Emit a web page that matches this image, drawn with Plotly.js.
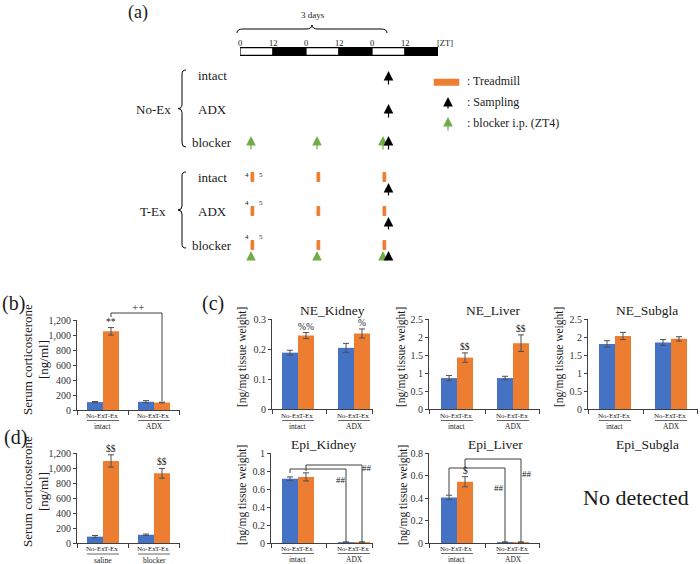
<!DOCTYPE html>
<html><head><meta charset="utf-8">
<script src="https://cdn.plot.ly/plotly-3.0.1.min.js"></script>
<style>html,body{margin:0;padding:0;background:#fff}#chart{width:700px;height:564px}</style>
</head><body><div id="chart"></div>
<script>
// ================= DATA =================
// (a) protocol schematic
const ldStart = [0, 12, 24, 36, 48, 60];
const ldDur = [12, 12, 12, 12, 12, 12];
const ldPhase = ['light', 'dark', 'light', 'dark', 'light', 'dark'];
const ztTickHours = [0, 12, 24, 36, 48, 60];
const ztTickText = ['0', '12', '0', '12', '0', '12'];
const treadmillStart = [4, 28, 52];
const treadmillEnd = [5, 29, 53];
const blockerZT = [4, 28, 52];
const samplingZT = 54;
const rowsNoEx = ['intact', 'ADX', 'blocker'];
const rowsTEx = ['intact', 'ADX', 'blocker'];
const rowHasBlocker = [false, false, true];

// bar panels
const groupPos = [0, 1];
const subLabels = ['No-Ex', 'T-Ex'];
const groupsB = ['intact', 'ADX'];
const groupsD = ['saline', 'blocker'];
const groupsC = ['intact', 'ADX'];

const corticoB_NoEx = [105, 110], corticoB_NoExErr = [8, 15];
const corticoB_TEx = [1050, 100], corticoB_TExErr = [50, 5];
const sigB = ['**', ''];

const corticoD_NoEx = [85, 110], corticoD_NoExErr = [15, 10];
const corticoD_TEx = [1095, 930], corticoD_TExErr = [82, 65];
const sigD = ['$$', '$$'];

const neKidney_NoEx = [0.188, 0.204], neKidney_NoExErr = [0.008, 0.015];
const neKidney_TEx = [0.245, 0.252], neKidney_TExErr = [0.010, 0.015];
const sigNEK = ['%%', '%'];

const neLiver_NoEx = [0.86, 0.86], neLiver_NoExErr = [0.07, 0.05];
const neLiver_TEx = [1.43, 1.83], neLiver_TExErr = [0.13, 0.23];
const sigNEL = ['$$', '$$'];

const neSubgla_NoEx = [1.81, 1.85], neSubgla_NoExErr = [0.09, 0.08];
const neSubgla_TEx = [2.03, 1.95], neSubgla_TExErr = [0.10, 0.06];
const sigNES = ['', ''];

const epiKidney_NoEx = [0.715, 0.01], epiKidney_NoExErr = [0.02, 0];
const epiKidney_TEx = [0.735, 0.01], epiKidney_TExErr = [0.045, 0];
const sigEK = ['', ''];

const epiLiver_NoEx = [0.405, 0.008], epiLiver_NoExErr = [0.02, 0];
const epiLiver_TEx = [0.545, 0.008], epiLiver_TExErr = [0.045, 0];
const sigEL = ['$', ''];

// ================= STYLE / LAYOUT =================
const W = 700, H = 564;
const FONT = 'Liberation Serif, DejaVu Serif, serif';
const BLUE = '#4472C4', ORANGE = '#ED7D31', GREEN = '#70AD47';
const AX = '#404040', ERR = '#505050', TXT = '#1a1a1a';
const px = x => x / W, py = y => 1 - y / H;

const traces = [];
const shapes = [];
const annotations = [];
const layout = {
  width: W, height: H, margin: {l: 0, r: 0, t: 0, b: 0},
  paper_bgcolor: '#fff', plot_bgcolor: 'rgba(0,0,0,0)',
  showlegend: false, barmode: 'overlay',
  font: {family: FONT, color: TXT, size: 12}
};

function txt(text, x, y, size, opts) {
  annotations.push(Object.assign({
    text: text, x: px(x), y: py(y), xref: 'paper', yref: 'paper',
    showarrow: false, xanchor: 'center', yanchor: 'middle',
    font: {family: FONT, size: size, color: TXT}
  }, opts || {}));
}

// ---------- (a) schematic ----------
const ZT0 = 240, PXH = 2.75;
layout.xaxis = {domain: [px(ZT0), px(ZT0 + 72 * PXH)], range: [0, 72], visible: false, anchor: 'y', fixedrange: true};
layout.yaxis = {domain: [py(56.5), py(46.5)], range: [-0.5, 0.5], visible: false, anchor: 'x', fixedrange: true};
traces.push({
  type: 'bar', orientation: 'h', xaxis: 'x', yaxis: 'y',
  y: ldStart.map(() => 0), x: ldDur, base: ldStart, width: 0.78,
  marker: {color: ldPhase.map(p => p === 'light' ? '#ffffff' : '#000000'), line: {color: '#000', width: 1.2}},
  hoverinfo: 'skip'
});
ztTickHours.forEach((h, i) => {
  annotations.push({text: ztTickText[i], x: h, xref: 'x', y: py(42.5), yref: 'paper', showarrow: false,
    xanchor: 'center', yanchor: 'middle', font: {family: FONT, size: 8.5, color: TXT}});
});
txt('[ZT]', 445, 42.5, 8.5);
txt('3 days', 313, 15, 9);
txt('(a)', 138, 12, 18);

function P(x, y) { return px(x).toFixed(5) + ',' + py(y).toFixed(5); }
// top brace
shapes.push({type: 'path', xref: 'paper', yref: 'paper', line: {color: '#000', width: 1},
  path: 'M' + P(237, 33) + ' Q' + P(237, 29) + ' ' + P(243, 29) + ' L' + P(306, 29) + ' Q' + P(312, 29) + ' ' + P(312, 25) +
        ' Q' + P(312, 29) + ' ' + P(318, 29) + ' L' + P(381, 29) + ' Q' + P(387, 29) + ' ' + P(387, 33)});
function leftBrace(top, bot) {
  const mid = (top + bot) / 2;
  return 'M' + P(186, top) + ' Q' + P(182, top) + ' ' + P(182, top + 4) + ' L' + P(182, mid - 4) +
    ' Q' + P(182, mid) + ' ' + P(178, mid) + ' Q' + P(182, mid) + ' ' + P(182, mid + 4) +
    ' L' + P(182, bot - 4) + ' Q' + P(182, bot) + ' ' + P(186, bot);
}
shapes.push({type: 'path', xref: 'paper', yref: 'paper', line: {color: '#000', width: 1}, path: leftBrace(70, 147)});
shapes.push({type: 'path', xref: 'paper', yref: 'paper', line: {color: '#000', width: 1}, path: leftBrace(172, 248)});

function arrowAnn(xref, x, tipY, len, color) {
  annotations.push({text: '', xref: xref, x: x, yref: 'paper', y: py(tipY), ax: 0, ay: len,
    axref: 'pixel', ayref: 'pixel', showarrow: true, arrowhead: 2, arrowsize: 1.6, arrowwidth: 1.2,
    arrowcolor: color, standoff: 0, startstandoff: 0});
}

const groupsA = [
  {name: 'No-Ex', rows: rowsNoEx, rowY: [76, 109, 142], treadmill: false, tipOff: [-5, -5, -6], len: [15, 15, 15], labelY: 109},
  {name: 'T-Ex', rows: rowsTEx, rowY: [177, 211, 245], treadmill: true, tipOff: [6, 6, 6], len: [14, 14, 10], labelY: 211}
];
groupsA.forEach(g => {
  txt(g.name, 153, g.labelY, 13);
  g.rows.forEach((r, i) => {
    const y = g.rowY[i];
    txt(r, 212, y, 13);
    if (g.treadmill) {
      treadmillStart.forEach((t, k) => {
        shapes.push({type: 'rect', xref: 'x', yref: 'paper', x0: t, x1: treadmillEnd[k],
          y0: py(y - 4.5), y1: py(y + 4.5), fillcolor: ORANGE, line: {color: ORANGE, width: 1}});
      });
      annotations.push({text: String(treadmillStart[0]), x: treadmillStart[0], xref: 'x', xanchor: 'right', xshift: 0,
        y: py(y - 8), yref: 'paper', showarrow: false, font: {family: FONT, size: 7, color: TXT}});
      annotations.push({text: String(treadmillEnd[0]), x: treadmillEnd[0], xref: 'x', xanchor: 'left', xshift: 3,
        y: py(y - 8), yref: 'paper', showarrow: false, font: {family: FONT, size: 7, color: TXT}});
    }
    if (rowHasBlocker[i]) {
      blockerZT.forEach(t => arrowAnn('x', t, y + g.tipOff[i], g.len[i], GREEN));
    }
    arrowAnn('x', samplingZT, y + g.tipOff[i], g.len[i], '#000');
  });
});

// legend of schematic
shapes.push({type: 'rect', xref: 'paper', yref: 'paper', x0: px(434), x1: px(459), y0: py(79), y1: py(85.5),
  fillcolor: ORANGE, line: {color: ORANGE, width: 0.5}});
arrowAnn('paper', px(448), 97, 13, '#000');
arrowAnn('paper', px(448), 117, 15, GREEN);
txt(': Treadmill', 465, 81, 12, {xanchor: 'left'});
txt(': Sampling', 465, 102, 12, {xanchor: 'left'});
txt(': blocker i.p. (ZT4)', 465, 123, 12, {xanchor: 'left'});

// ---------- bar panels ----------
const panels = [
  {xa: 'x2', ya: 'y2', L: 77, R: 180, top: 320, bottom: 410, c0: 103, c1: 154, ymax: 1200, dtick: 200, fmt: ',',
   groups: groupsB, noEx: corticoB_NoEx, noExErr: corticoB_NoExErr, tEx: corticoB_TEx, tExErr: corticoB_TExErr, sig: sigB,
   ylab: ['Serum corticosterone', '[ng/ml]'], ylabX: [27, 43], ylabY: 360, labOff: [5.5, 10.5, 16.5]},
  {xa: 'x3', ya: 'y3', L: 77, R: 180, top: 453, bottom: 543, c0: 103, c1: 154, ymax: 1200, dtick: 200, fmt: ',',
   groups: groupsD, noEx: corticoD_NoEx, noExErr: corticoD_NoExErr, tEx: corticoD_TEx, tExErr: corticoD_TExErr, sig: sigD,
   ylab: ['Serum corticosterone', '[ng/ml]'], ylabX: [27, 43], ylabY: 492, labOff: [5.5, 11, 17]},
  {xa: 'x4', ya: 'y4', L: 272, R: 373, top: 319, bottom: 409, c0: 298, c1: 354, ymax: 0.3, dtick: 0.1, fmt: '',
   groups: groupsC, noEx: neKidney_NoEx, noExErr: neKidney_NoExErr, tEx: neKidney_TEx, tExErr: neKidney_TExErr, sig: sigNEK,
   title: 'NE_Kidney', titleX: 332, titleY: 310, ylab: ['[ng/mg tissue weight]'], ylabX: [242], ylabY: 357, labOff: [6.5, 11.5, 17]},
  {xa: 'x5', ya: 'y5', L: 429, R: 540, top: 319, bottom: 409, c0: 457, c1: 513, ymax: 2.5, dtick: 0.5, fmt: '',
   groups: groupsC, noEx: neLiver_NoEx, noExErr: neLiver_NoExErr, tEx: neLiver_TEx, tExErr: neLiver_TExErr, sig: sigNEL,
   title: 'NE_Liver', titleX: 493, titleY: 310, ylab: ['[ng/mg tissue weight]'], ylabX: [401], ylabY: 357, labOff: [6.5, 11.5, 17]},
  {xa: 'x6', ya: 'y6', L: 588, R: 698, top: 319, bottom: 409, c0: 615, c1: 671, ymax: 2.5, dtick: 0.5, fmt: '',
   groups: groupsC, noEx: neSubgla_NoEx, noExErr: neSubgla_NoExErr, tEx: neSubgla_TEx, tExErr: neSubgla_TExErr, sig: sigNES,
   title: 'NE_Subgla', titleX: 647, titleY: 310, ylab: ['[ng/mg tissue weight]'], ylabX: [559], ylabY: 357, labOff: [6.5, 11.5, 17]},
  {xa: 'x7', ya: 'y7', L: 271, R: 373, top: 453, bottom: 543, c0: 298, c1: 354, ymax: 1, dtick: 0.2, fmt: '',
   groups: groupsC, noEx: epiKidney_NoEx, noExErr: epiKidney_NoExErr, tEx: epiKidney_TEx, tExErr: epiKidney_TExErr, sig: sigEK,
   title: 'Epi_Kidney', titleX: 323, titleY: 444, ylab: ['[ng/mg tissue weight]'], ylabX: [242], ylabY: 495, labOff: [5.5, 10.5, 16]},
  {xa: 'x8', ya: 'y8', L: 429, R: 540, top: 453, bottom: 543, c0: 457, c1: 513, ymax: 0.8, dtick: 0.2, fmt: '',
   groups: groupsC, noEx: epiLiver_NoEx, noExErr: epiLiver_NoExErr, tEx: epiLiver_TEx, tExErr: epiLiver_TExErr, sig: sigEL,
   title: 'Epi_Liver', titleX: 495, titleY: 444, ylab: ['[ng/mg tissue weight]'], ylabX: [403], ylabY: 495, labOff: [5.5, 10.5, 16]}
];

panels.forEach(p => {
  const s = p.c1 - p.c0;
  const w = 16 / s;
  p.w = w;
  const xr = [(p.L - p.c0) / s, (p.R - p.c0) / s];
  const xk = 'xaxis' + p.xa.slice(1), yk = 'yaxis' + p.ya.slice(1);
  layout[xk] = {domain: [px(p.L), px(p.R)], range: xr, anchor: p.ya, showline: true, linecolor: AX, linewidth: 1,
    ticks: 'outside', ticklen: 4, tickcolor: AX, tickwidth: 1, tickvals: [xr[0] + 0.001, 0.5, xr[1] - 0.001],
    showticklabels: false, showgrid: false, zeroline: false, fixedrange: true};
  layout[yk] = {domain: [py(p.bottom), py(p.top)], range: [0, p.ymax * 1.001], anchor: p.xa, showline: true,
    linecolor: AX, linewidth: 1, ticks: 'outside', ticklen: 3, tickcolor: AX, dtick: p.dtick, tick0: 0,
    tickformat: p.fmt, tickfont: {family: FONT, size: 10, color: '#333'}, showgrid: false, zeroline: false, fixedrange: true};
  traces.push({type: 'bar', xaxis: p.xa, yaxis: p.ya, x: groupPos, y: p.noEx, width: w, offset: -w,
    marker: {color: BLUE, line: {width: 0}}, hoverinfo: 'skip',
    error_y: {type: 'data', array: p.noExErr, visible: true, color: ERR, thickness: 1, width: 3}});
  traces.push({type: 'bar', xaxis: p.xa, yaxis: p.ya, x: groupPos, y: p.tEx, width: w, offset: 0,
    marker: {color: ORANGE, line: {width: 0}}, hoverinfo: 'skip',
    error_y: {type: 'data', array: p.tExErr, visible: true, color: ERR, thickness: 1, width: 3}});
  // significance marks
  p.sig.forEach((sg, i) => {
    if (!sg) return;
    annotations.push({text: sg, xref: p.xa, yref: p.ya, x: groupPos[i] + w / 2, y: p.tEx[i] + p.tExErr[i],
      yanchor: 'bottom', xanchor: 'center', showarrow: false, yshift: -1, font: {family: FONT, size: 9.5, color: TXT}});
  });
  // sub labels, underline and group label
  groupPos.forEach((g, i) => {
    annotations.push({text: subLabels[0], xref: p.xa, x: g - w / 2, yref: 'paper', y: py(p.bottom + p.labOff[0]),
      showarrow: false, xanchor: 'center', yanchor: 'middle', font: {family: FONT, size: 7, color: TXT}});
    annotations.push({text: subLabels[1], xref: p.xa, x: g + w / 2, yref: 'paper', y: py(p.bottom + p.labOff[0]),
      showarrow: false, xanchor: 'center', yanchor: 'middle', font: {family: FONT, size: 7, color: TXT}});
    shapes.push({type: 'line', xref: p.xa, yref: 'paper', x0: g - w, x1: g + w,
      y0: py(p.bottom + p.labOff[1]), y1: py(p.bottom + p.labOff[1]), line: {color: AX, width: 0.8}});
    annotations.push({text: p.groups[i], xref: p.xa, x: g, yref: 'paper', y: py(p.bottom + p.labOff[2]),
      showarrow: false, xanchor: 'center', yanchor: 'middle', font: {family: FONT, size: 7.5, color: TXT}});
  });
  if (p.title) txt(p.title, p.titleX, p.titleY, 13.5);
  p.ylab.forEach((t, k) => txt(t, p.ylabX[k], p.ylabY, p.ylab.length > 1 ? 13 : 11.5, {textangle: -90}));
});

// brackets (xref data, y in pixels)
function bracket(p, xa, xb, yStart, yTop, yEnd) {
  shapes.push({type: 'path', xref: p.xa, yref: 'paper', line: {color: AX, width: 1},
    path: 'M' + xa + ',' + py(yStart) + ' L' + xa + ',' + py(yTop) + ' L' + xb + ',' + py(yTop) + ' L' + xb + ',' + py(yEnd)});
}
const pb = panels[0], pek = panels[5], pel = panels[6];
bracket(pb, 0 + pb.w / 2, 1 + pb.w / 2, 317, 313, 401);
txt('++', 138, 307, 11);
bracket(pek, 0 - pek.w / 2, 1 - pek.w / 2, 473, 469, 542);
bracket(pek, 0 + pek.w / 2, 1 + pek.w / 2, 471, 465, 542);
txt('##', 341, 480, 9);
txt('##', 367, 468, 9);
bracket(pel, 0 - pel.w / 2, 1 - pel.w / 2, 495, 468, 542);
bracket(pel, 0 + pel.w / 2, 1 + pel.w / 2, 468, 459, 542);
txt('##', 499, 488, 9);
txt('##', 527, 474, 9);

// panel labels & Epi_Subgla
txt('(b)', 13, 303, 20);
txt('(c)', 213, 303, 20);
txt('(d)', 15, 437, 20);
txt('Epi_Subgla', 647, 444, 13.5);
txt('No detected', 636, 497, 22);

layout.shapes = shapes;
layout.annotations = annotations;
Plotly.newPlot('chart', traces, layout, {displayModeBar: false, staticPlot: true});
</script></body></html>
